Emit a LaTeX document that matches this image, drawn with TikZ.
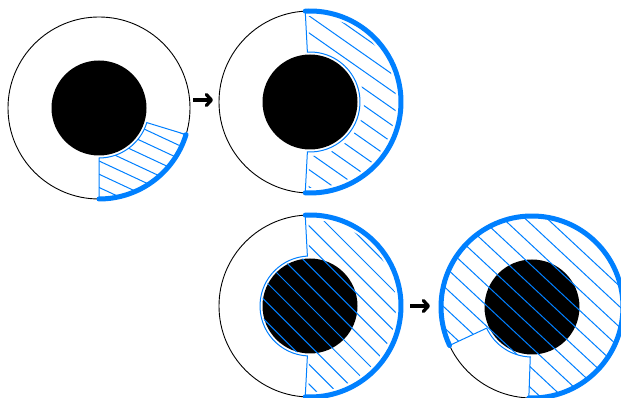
\documentclass[tikz,border=0pt]{standalone}
\usetikzlibrary{arrows.meta}
\definecolor{bl}{RGB}{0,128,255}
\tikzset{
  ring/.style={draw=black, line width=0.9pt},
  core/.style={fill=black},
  outline/.style={draw=bl, line width=1pt},
  hatchline/.style={draw=bl, line width=1pt},
  rim/.style={draw=bl, line width=5pt, line cap=round},
  flow/.style={line width=3.3pt, -{Straight Barb[round,length=5pt,width=11pt]}}
}
\newcommand{\hatchfill}[2]{%
  \foreach \k in {-12,...,12}{%
    \draw[hatchline] ({\k*#2*sin(#1)-140*cos(#1)},{\k*#2*cos(#1)+140*sin(#1)}) -- ({\k*#2*sin(#1)+140*cos(#1)},{\k*#2*cos(#1)-140*sin(#1)});
  }}
\begin{document}
\begin{tikzpicture}[x=1pt,y=1pt]
\useasboundingbox (0,0) rectangle (621,398);
\fill[white] (0,0) rectangle (621,398);
\coordinate (c1) at (99,290);
\coordinate (c2) at (310,296);
\coordinate (c3) at (310,92);
\coordinate (c4) at (532,91);
% diagram 1
\begin{scope}[shift={(c1)}]
  \draw[ring] (0,0) circle (91);
  \fill[core] (0,0) circle (47.5);
  \def\regA{(-90:50) -- (-90:91) arc[start angle=-90,end angle=-17,radius=91] -- (-17:50) arc[start angle=-17,end angle=-90,radius=50] -- cycle}
  \begin{scope}\clip \regA; \hatchfill{25}{12}\end{scope}
  \draw[outline] \regA;
  \draw[rim] (-90:91) arc[start angle=-90,end angle=-17,radius=91];
\end{scope}
% diagram 2
\begin{scope}[shift={(c2)}]
  \draw[ring] (0,0) circle (91);
  \fill[core] (0,0) circle (47.5);
  \def\regB{(93:50) -- (93:91) arc[start angle=93,end angle=-93,radius=91] -- (-93:50) arc[start angle=-93,end angle=93,radius=50] -- cycle}
  \begin{scope}\clip (91:54) -- (91:86) arc[start angle=91,end angle=-91,radius=86] -- (-91:54) arc[start angle=-91,end angle=91,radius=54] -- cycle; \hatchfill{35}{14}\end{scope}
  \draw[outline] \regB;
  \draw[rim] (-93:91) arc[start angle=-93,end angle=93,radius=91];
\end{scope}
% diagram 3
\begin{scope}[shift={(c3)}]
  \draw[ring] (0,0) circle (91);
  \fill[core] (0,0) circle (47.5);
  \def\regC{(93:91) arc[start angle=93,end angle=-93,radius=91] -- (-93:50) arc[start angle=267,end angle=93,radius=50] -- cycle}
  \begin{scope}\clip (91:86) arc[start angle=91,end angle=-91,radius=86] -- (-91:48) arc[start angle=269,end angle=91,radius=48] -- cycle; \hatchfill{45}{14}\end{scope}
  \draw[outline] \regC;
  \draw[rim] (-93:91) arc[start angle=-93,end angle=93,radius=91];
\end{scope}
% diagram 4
\begin{scope}[shift={(c4)}]
  \draw[ring] (0,0) circle (91);
  \fill[core] (0,0) circle (47.5);
  \def\regD{(-92:91) arc[start angle=-92,end angle=205,radius=91] -- (205:50) arc[start angle=205,end angle=268,radius=50] -- cycle}
  \begin{scope}\clip \regD; \hatchfill{43}{15}\end{scope}
  \draw[outline] \regD;
  \draw[rim] (-92:91) arc[start angle=-92,end angle=205,radius=91];
\end{scope}
% arrows
\coordinate (a1s) at (193,298);
\coordinate (a1e) at (213,298);
\coordinate (a2s) at (410,92);
\coordinate (a2e) at (430,92);
\draw[flow] (a1s) -- (a1e);
\draw[flow] (a2s) -- (a2e);
\end{tikzpicture}
\end{document}
